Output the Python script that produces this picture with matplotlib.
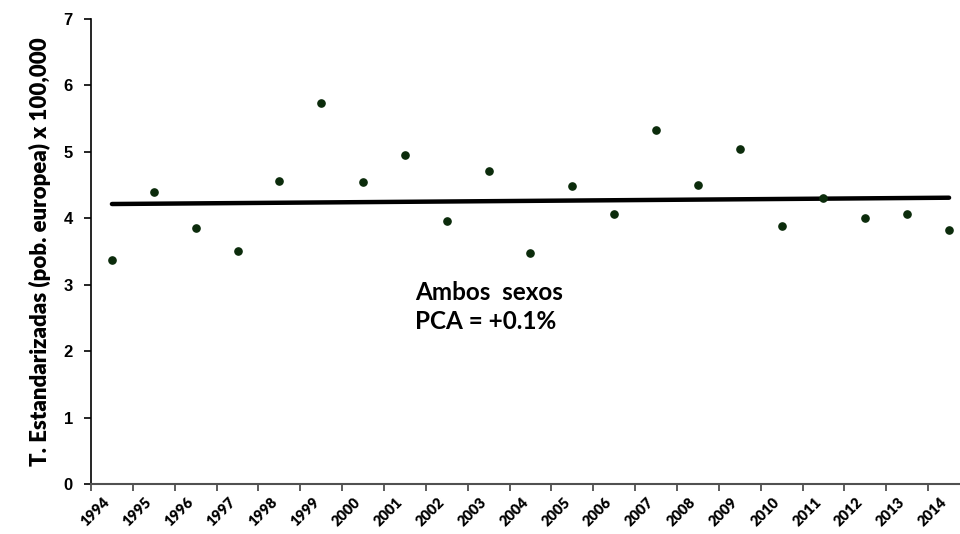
import matplotlib.pyplot as plt

# Data
years = [str(y) for y in range(1994, 2015)]
rates = [3.37, 4.39, 3.85, 3.51, 4.56, 5.74, 4.55, 4.95, 3.96, 4.71, 3.48,
         4.49, 4.07, 5.33, 4.50, 5.04, 3.89, 4.31, 4.01, 4.06, 3.82]
trend_years = [0, 20]          # index of first / last year
trend_values = [4.215, 4.31]

fig = plt.figure(figsize=(9.6, 5.34), dpi=100)
ax = fig.add_axes([0.0948, 0.0936, 0.9156, 0.8708])

x = list(range(len(years)))
ax.plot(trend_years, trend_values, color='black', lw=3.2,
        solid_capstyle='round', zorder=2)
ax.plot(x, rates, 'o', color='#0b2b0b', markersize=5.2, zorder=3)

ax.set_xlim(-0.5, len(years) - 0.5)
ax.set_ylim(0, 7)
ax.set_yticks(range(0, 8))

# category labels at centres, tick marks at boundaries
ax.set_xticks(x)
ax.set_xticklabels(years, rotation=45, ha='right', va='top',
                   fontfamily='Lato', fontweight='heavy', fontsize=10.5)
ax.set_xticks([i - 0.5 for i in range(len(years) + 1)], minor=True)
ax.tick_params(axis='x', which='major', length=0, pad=8)
ax.tick_params(axis='x', which='minor', length=5, width=1.2, color='#404040',
               direction='out')
ax.tick_params(axis='y', length=5, width=1.2, direction='out', pad=8)
for lbl in ax.get_yticklabels():
    lbl.set_fontfamily('Liberation Sans')
    lbl.set_fontweight('bold')
    lbl.set_fontsize(12)

for side in ['top', 'right']:
    ax.spines[side].set_visible(False)
ax.spines['left'].set_linewidth(1.2)
ax.spines['bottom'].set_linewidth(1.5)
ax.spines['bottom'].set_color('#505050')

ax.set_ylabel('T. Estandarizadas (pob. europea) x 100,000', fontfamily='Lato',
              fontweight='heavy', fontsize=16, labelpad=9)

ax.text(7.24, 3.05, 'Ambos  sexos\nPCA = +0.1%', fontfamily='Lato',
        fontweight='bold', fontsize=17.5, va='top', ha='left', linespacing=1.3)

fig.savefig('out.png', dpi=100)
